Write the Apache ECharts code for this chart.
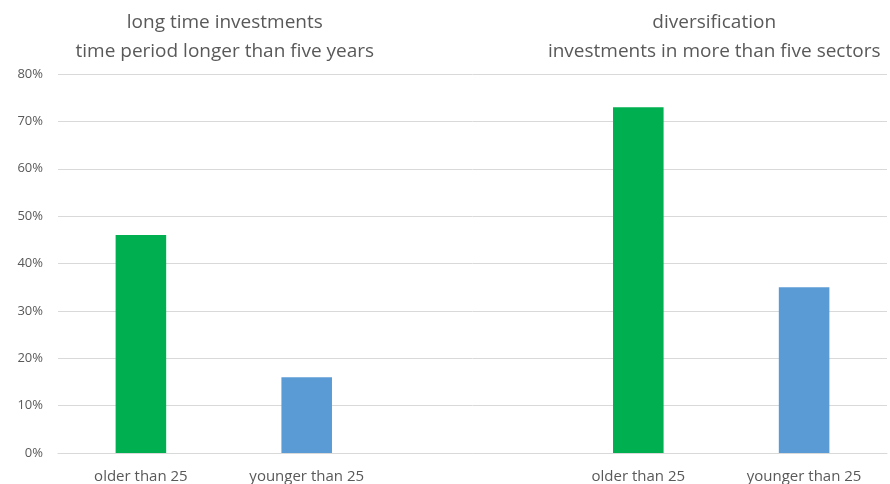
<!DOCTYPE html>
<html>
<head>
<meta charset="utf-8">
<style>
  html, body { margin: 0; padding: 0; background: #ffffff; }
  #chart { width: 890px; height: 484px; }
</style>
<script src="https://cdn.jsdelivr.net/npm/echarts@6/dist/echarts.min.js"></script>
</head>
<body>
<div id="chart"></div>
<script>
// Two groups of bars separated by an empty slot in the middle
const categories = ['older than 25', 'younger than 25', '', 'older than 25', 'younger than 25'];
const values = [46, 16, null, 73, 35];
const barColors = ['#00b050', '#5b9bd5', '#ffffff', '#00b050', '#5b9bd5'];
const yTicks = { min: 0, max: 80, interval: 10 };
const groupTitles = [
  ['long time investments', 'time period longer than five years'],
  ['diversification', 'investments in more than five sectors']
];

const chart = echarts.init(document.getElementById('chart'));
const FONT = '"Open Sans", "Noto Sans", sans-serif';

const option = {
  animation: false,
  grid: { left: 58, right: 3, top: 74, bottom: 29 },
  xAxis: {
    type: 'category',
    data: categories,
    axisLine: { lineStyle: { color: '#d9d9d9' } },
    axisTick: { show: false },
    axisLabel: { interval: 0, color: '#595959', fontFamily: FONT, fontSize: 15, margin: 16 }
  },
  yAxis: {
    type: 'value',
    min: yTicks.min,
    max: yTicks.max,
    interval: yTicks.interval,
    axisLine: { show: false },
    axisTick: { show: false },
    splitLine: { lineStyle: { color: '#d9d9d9' } },
    axisLabel: { formatter: '{value}%', color: '#595959', fontFamily: FONT, fontSize: 13, margin: 15 }
  },
  series: [{
    type: 'bar',
    data: values.map((v, i) => ({ value: v, itemStyle: { color: barColors[i] } })),
    barWidth: '30.5%'
  }]
};
chart.setOption(option);

// Group headings centred over each pair of bars
const centres = [[0, 1], [3, 4]].map(pair => {
  const a = chart.convertToPixel({ xAxisIndex: 0 }, pair[0]);
  const b = chart.convertToPixel({ xAxisIndex: 0 }, pair[1]);
  return (a + b) / 2;
});
const headingNudge = [1, -7];
chart.setOption({
  graphic: groupTitles.map((lines, g) => ({
    type: 'text',
    x: centres[g] + headingNudge[g],
    y: 8,
    style: {
      text: lines.join('\n'),
      fill: '#595959',
      font: '19px ' + FONT,
      lineHeight: 29,
      align: 'center',
      verticalAlign: 'top'
    }
  }))
});
</script>
</body>
</html>
